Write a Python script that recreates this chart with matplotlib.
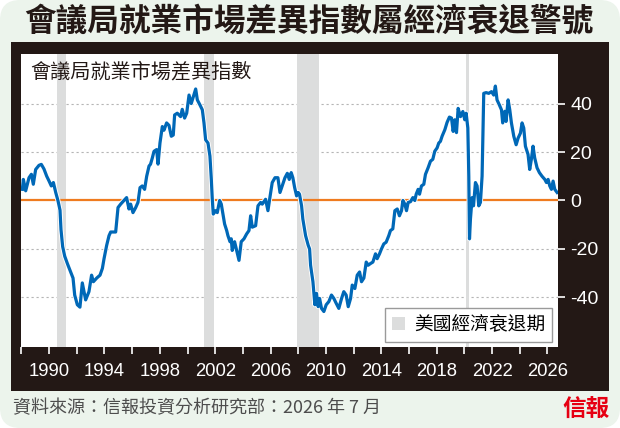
import matplotlib
matplotlib.use("Agg")
import matplotlib.pyplot as plt
import matplotlib.patheffects as pe
from matplotlib.patches import Rectangle, FancyBboxPatch, Patch
from matplotlib.ticker import MultipleLocator

plt.rcParams["font.family"] = ["Noto Sans CJK TC", "DejaVu Sans"]
plt.rcParams["axes.unicode_minus"] = False

# Conference Board employment trends differential index (decimal years)
dates = [
    1988.07, 1988.14, 1988.31, 1988.55, 1988.72, 1988.86, 1989.03, 1989.27, 1989.44, 1989.63,
    1989.83, 1990.00, 1990.16, 1990.31, 1990.48, 1990.64, 1990.79, 1990.86, 1990.98, 1991.13,
    1991.32, 1991.56, 1991.73, 1991.85, 1992.04, 1992.23, 1992.40, 1992.52, 1992.64, 1992.88,
    1993.07, 1993.20, 1993.44, 1993.68, 1993.85, 1993.97, 1994.16, 1994.33, 1994.45, 1994.81,
    1994.98, 1995.17, 1995.41, 1995.60, 1995.77, 1995.89, 1996.06, 1996.25, 1996.42, 1996.57,
    1996.73, 1996.90, 1997.05, 1997.22, 1997.33, 1997.46, 1997.58, 1997.77, 1997.87, 1998.01,
    1998.18, 1998.30, 1998.49, 1998.66, 1998.83, 1998.97, 1999.07, 1999.26, 1999.50, 1999.62,
    1999.79, 1999.94, 2000.11, 2000.27, 2000.42, 2000.59, 2000.71, 2000.90, 2001.07, 2001.19,
    2001.31, 2001.48, 2001.62, 2001.72, 2001.79, 2001.86, 2002.03, 2002.15, 2002.32, 2002.44,
    2002.58, 2002.68, 2002.83, 2002.92, 2003.07, 2003.16, 2003.23, 2003.40, 2003.55, 2003.72,
    2003.88, 2004.08, 2004.27, 2004.44, 2004.56, 2004.68, 2004.92, 2005.09, 2005.28, 2005.40,
    2005.64, 2005.81, 2005.95, 2006.12, 2006.32, 2006.53, 2006.68, 2006.84, 2007.04, 2007.21,
    2007.35, 2007.49, 2007.61, 2007.74, 2007.88, 2008.00, 2008.09, 2008.24, 2008.33, 2008.53,
    2008.72, 2008.82, 2008.89, 2009.06, 2009.20, 2009.32, 2009.44, 2009.54, 2009.68, 2009.85,
    2010.02, 2010.21, 2010.40, 2010.57, 2010.74, 2010.93, 2011.13, 2011.29, 2011.46, 2011.61,
    2011.78, 2011.90, 2012.09, 2012.26, 2012.43, 2012.57, 2012.74, 2012.91, 2013.05, 2013.22,
    2013.39, 2013.58, 2013.70, 2013.87, 2014.01, 2014.18, 2014.35, 2014.54, 2014.66, 2014.83,
    2014.98, 2015.15, 2015.31, 2015.46, 2015.56, 2015.70, 2015.82, 2015.94, 2016.11, 2016.28,
    2016.42, 2016.52, 2016.66, 2016.76, 2016.90, 2017.07, 2017.19, 2017.38, 2017.55, 2017.72,
    2017.86, 2018.03, 2018.15, 2018.27, 2018.39, 2018.59, 2018.75, 2018.92, 2019.07, 2019.19,
    2019.31, 2019.43, 2019.55, 2019.72, 2019.89, 2020.03, 2020.13, 2020.25, 2020.32, 2020.37,
    2020.44, 2020.56, 2020.66, 2020.80, 2020.92, 2021.04, 2021.16, 2021.28, 2021.40, 2021.57,
    2021.76, 2021.96, 2022.12, 2022.24, 2022.36, 2022.53, 2022.68, 2022.77, 2022.92, 2023.01,
    2023.16, 2023.28, 2023.40, 2023.57, 2023.74, 2023.88, 2024.05, 2024.17, 2024.29, 2024.41,
    2024.60, 2024.72, 2024.84, 2024.96, 2025.08, 2025.25, 2025.42, 2025.61, 2025.81, 2025.93,
    2026.05, 2026.17, 2026.29, 2026.41, 2026.53, 2026.70,
]
index_values = [
    4.6, 8.7, 4.0, 9.4, 10.8, 6.7, 12.8, 14.5, 14.9, 13.0,
    10.0, 8.0, 6.0, 7.4, 3.3, 0.0, -4.0, -12.0, -19.0, -23.0,
    -26.0, -29.5, -32.0, -39.0, -43.0, -44.0, -34.0, -37.6, -41.0, -37.6,
    -30.8, -33.5, -32.0, -30.8, -28.0, -24.0, -18.5, -14.5, -13.0, -13.0,
    -2.9, -1.5, 0.0, 1.2, -3.5, -1.5, -5.0, -3.0, -0.8, 5.3,
    6.0, 4.6, 10.0, 14.2, 15.0, 17.6, 20.3, 21.0, 15.0, 23.7,
    30.5, 29.0, 32.0, 31.0, 26.5, 27.0, 35.3, 36.0, 34.6, 37.6,
    34.0, 36.0, 43.5, 40.0, 42.8, 46.0, 41.5, 39.4, 37.4, 32.0,
    25.0, 23.7, 18.3, 8.7, 0.5, -5.6, -4.2, -5.0, 0.0, -1.5,
    -6.3, -9.7, -12.4, -14.5, -17.0, -15.8, -20.6, -17.0, -20.6, -24.7,
    -17.0, -15.8, -13.8, -12.4, -6.3, -11.0, -10.4, -2.2, -0.8, -1.5,
    0.5, -4.2, 1.2, 7.4, 9.4, 9.4, 3.3, 6.0, 9.4, 11.2,
    8.7, 11.5, 9.4, 5.3, 1.9, 3.3, 2.6, -2.2, -7.6, -14.5,
    -18.5, -20.0, -26.7, -33.5, -43.0, -38.3, -43.8, -40.4, -44.5, -45.8,
    -43.0, -41.7, -39.0, -40.4, -42.4, -44.5, -40.4, -37.6, -39.0, -43.8,
    -40.4, -34.9, -36.3, -30.8, -29.5, -33.5, -32.0, -25.4, -26.7, -26.0,
    -25.4, -22.0, -24.0, -22.0, -20.0, -17.9, -17.2, -14.5, -12.4, -11.7,
    -4.2, -3.5, -6.3, -4.2, 0.0, -1.5, -4.2, -0.8, -0.5, 1.2,
    0.0, 2.6, 4.6, 2.6, 6.0, 6.7, 10.8, 13.5, 16.2, 17.0,
    20.3, 21.7, 23.7, 24.4, 26.5, 29.2, 32.2, 34.4, 34.0, 28.5,
    33.3, 28.0, 38.0, 34.6, 36.7, 33.3, 36.0, 29.9, 10.0, -15.8,
    -7.6, 1.2, -2.2, 7.4, 6.0, -2.2, -0.8, 10.0, 44.2, 44.5,
    44.2, 44.9, 43.5, 47.2, 41.5, 39.4, 37.4, 32.0, 36.8, 32.6,
    41.5, 37.4, 32.0, 26.5, 23.0, 25.7, 27.8, 32.0, 29.9, 22.4,
    19.0, 12.8, 17.0, 22.4, 17.6, 13.5, 11.5, 10.0, 8.7, 7.4,
    8.7, 6.0, 4.6, 8.0, 4.6, 3.3,
]

# US recessions
recession_start = [1990.58, 2001.22, 2007.93, 2020.13]
recession_end = [1991.25, 2001.88, 2009.49, 2020.37]

xticks = [1990, 1994, 1998, 2002, 2006, 2010, 2014, 2018, 2022, 2026]
yticks = [-40, -20, 0, 20, 40]

title = "會議局就業市場差異指數屬經濟衰退警號"
series_label = "會議局就業市場差異指數"
legend_label = "美國經濟衰退期"
source = "資料來源：信報投資分析研究部：2026 年 7 月"
logo = "信報"

dark = "#231815"
blue = "#0068b7"
orange = "#ef7b1f"
band = "#dcdddd"

fig = plt.figure(figsize=(6.2, 4.28), dpi=100)
fig.patch.set_facecolor("white")
bg = FancyBboxPatch((0, 0), 6.2, 4.28, boxstyle="round,pad=0,rounding_size=0.2",
                    transform=fig.dpi_scale_trans, facecolor="#ecf4ec",
                    edgecolor="none", zorder=-2)
fig.add_artist(bg)
panel = Rectangle((0.0177, 0.0864), 0.9645, 0.8162, transform=fig.transFigure,
                  facecolor=dark, edgecolor="none", zorder=-1)
fig.add_artist(panel)

ax = fig.add_axes([0.0334, 0.19, 0.8674, 0.6831])
ax.set_facecolor("white")
for s in ax.spines.values():
    s.set_visible(False)

for y in [-40, -20, 20, 40]:
    ax.axhline(y, color="#b5b5b5", lw=0.8, ls=(0, (2, 2.5)), zorder=1)
for a, b in zip(recession_start, recession_end):
    ax.axvspan(a, b, color=band, lw=0, zorder=2)
ax.axhline(0, color=orange, lw=1.6, zorder=3)
ax.plot(dates, index_values, color=blue, lw=2.3, zorder=4,
        solid_joinstyle="round",
        path_effects=[pe.Stroke(linewidth=3.6, foreground="white"), pe.Normal()])

ax.set_xlim(1987.95, 2026.8)
ax.set_ylim(-60.3, 60.3)

ax.set_xticks(xticks)
ax.xaxis.set_minor_locator(MultipleLocator(2))
ax.yaxis.tick_right()
ax.set_yticks(yticks)
ax.tick_params(axis="x", which="both", colors="white", length=5, width=1.2,
               pad=7, labelsize=13.3, labelfontfamily="Liberation Sans")
ax.tick_params(axis="y", colors="white", length=5, width=1.2, pad=3.5,
               labelsize=14, labelfontfamily="Liberation Sans")

ax.text(0.017, 0.94, series_label, transform=ax.transAxes, fontsize=14.5,
        color=dark, va="center", ha="left", zorder=6)

leg = ax.legend([Patch(facecolor=band, edgecolor="none")], [legend_label],
                loc="lower right", bbox_to_anchor=(0.988, 0.016), borderaxespad=0,
                fontsize=13.5, frameon=True, fancybox=False, framealpha=1,
                handlelength=0.7, handleheight=0.7, handletextpad=0.5,
                borderpad=0.35)
leg.get_frame().set_edgecolor("#9a9a9a")
leg.get_frame().set_linewidth(1.0)
leg.set_zorder(7)

fig.text(0.498, 0.95, title, fontsize=22.8, fontweight="bold", color=dark,
         ha="center", va="center")
fig.text(0.021, 0.047, source, fontsize=13, color="#4d4d4d", ha="left", va="center")
fig.text(0.983, 0.045, logo, fontsize=17, fontweight="bold", color="#e60012",
         ha="right", va="center")

fig.savefig("out.png", dpi=100, facecolor=fig.get_facecolor())
